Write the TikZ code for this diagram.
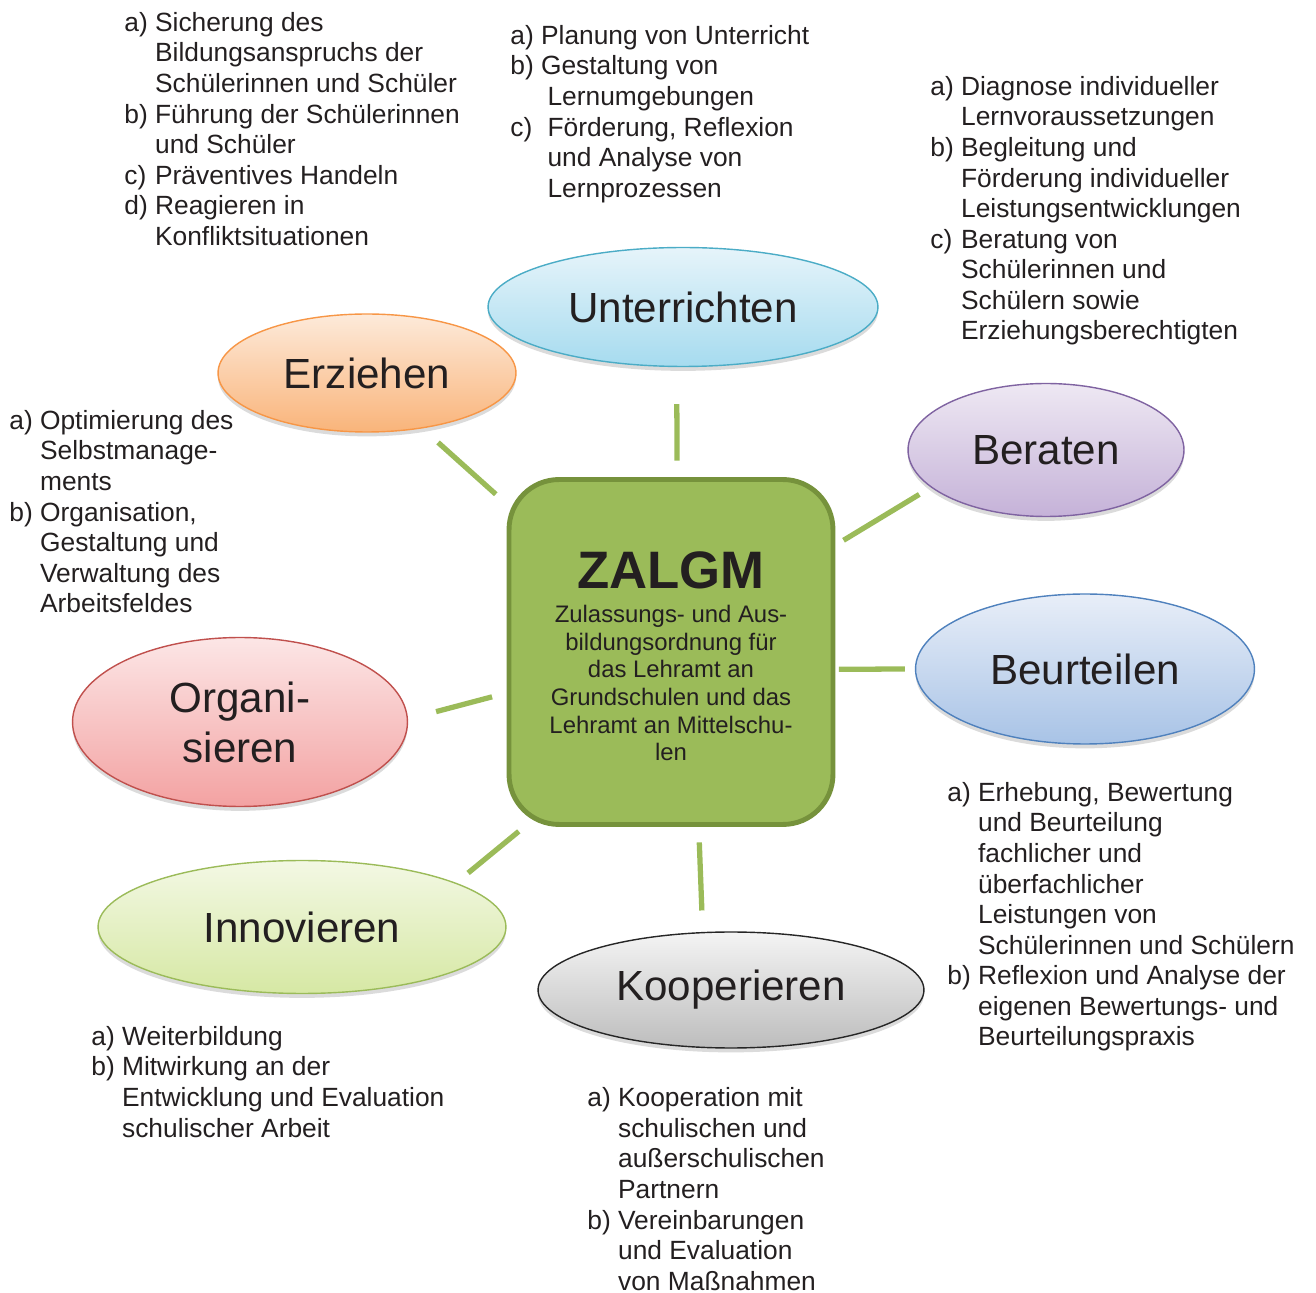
\documentclass[tikz,border=0pt]{standalone}
\usepackage{fontspec}
\setmainfont{Liberation Sans}
\usetikzlibrary{shapes.geometric, shadows}
\definecolor{textdark}{RGB}{35,31,32}
\definecolor{linkgreen}{HTML}{9BBB59}
\definecolor{zalgmfill}{HTML}{9BBB59}
\definecolor{zalgmline}{HTML}{76923C}

\begin{document}
\begin{tikzpicture}[x=0.02cm, y=-0.02cm,
    task/.style={ellipse, inner sep=0pt, line width=0.8pt, align=center, text=textdark,
      font=\fontsize{24}{28.5}\selectfont,
      drop shadow={shadow xshift=0pt, shadow yshift=-2.5pt, opacity=.14, fill=black}},
    core/.style={rectangle, rounded corners=1cm, minimum width=6.48cm, minimum height=6.9cm,
      fill=zalgmfill, draw=zalgmline, line width=2.8pt, align=center, text=textdark,
      font=\fontsize{13.6}{15.7}\selectfont},
    link/.style={draw=linkgreen, line width=3pt},
    items/.style={anchor=north west, inner sep=0pt, text=textdark, font=\fontsize{15}{17.4}\selectfont}]
    \useasboundingbox (0,0) rectangle (1316,1293);

    % Centre
    \node[core] (zalgm) at (671,652) {{\fontsize{30}{34}\selectfont\bfseries\rule{0pt}{26pt}ZALGM}\\[3.7pt]
      Zulassungs- und Aus-\\bildungsordnung für\\das Lehramt an\\Grundschulen und das\\Lehramt an Mittelschu-\\len};

    % Competence areas
    \node[task, minimum width=7.8cm, minimum height=2.38cm, draw={rgb,255:red,75;green,172;blue,198},
      top color={rgb,255:red,230;green,244;blue,250}, bottom color={rgb,255:red,166;green,219;blue,239}] (unter) at (683,307) {Unterrichten};
    \node[task, minimum width=5.96cm, minimum height=2.36cm, draw={rgb,255:red,247;green,150;blue,70},
      top color={rgb,255:red,253;green,234;blue,218}, bottom color={rgb,255:red,249;green,180;blue,122}] (erz) at (367,373) {Erziehen};
    \node[task, minimum width=5.52cm, minimum height=2.66cm, draw={rgb,255:red,127;green,99;blue,161},
      top color={rgb,255:red,238;green,232;blue,243}, bottom color={rgb,255:red,197;green,178;blue,216}] (berat) at (1046,450) {Beraten};
    \node[task, minimum width=6.78cm, minimum height=3.0cm, draw={rgb,255:red,79;green,129;blue,189},
      top color={rgb,255:red,232;green,238;blue,248}, bottom color={rgb,255:red,168;green,195;blue,230}] (beurt) at (1085,669) {Beurteilen};
    \node[task, minimum width=6.7cm, minimum height=3.38cm, draw={rgb,255:red,192;green,80;blue,77},
      top color={rgb,255:red,252;green,230;blue,230}, bottom color={rgb,255:red,243;green,162;blue,162}] (organ) at (240,722) {Organi-\\sieren};
    \node[task, minimum width=8.16cm, minimum height=2.66cm, draw={rgb,255:red,155;green,187;blue,89},
      top color={rgb,255:red,243;green,248;blue,228}, bottom color={rgb,255:red,214;green,232;blue,164}] (innov) at (302,927) {Innovieren};
    \node[task, minimum width=7.72cm, minimum height=2.32cm, draw={rgb,255:red,38;green,38;blue,38},
      top color={rgb,255:red,244;green,244;blue,244}, bottom color={rgb,255:red,189;green,189;blue,189}] (koop) at (731,990) {Kooperieren};

    % Links
    \draw[link, shorten <=0.33cm, shorten >=0.74cm] (zalgm.88.1) -- (unter.264.4);
    \draw[link, shorten <=0.29cm, shorten >=0.42cm] (zalgm.138.7) -- (erz.315.1);
    \draw[link, shorten <=0.19cm, shorten >=0.27cm] (zalgm.33.8) -- (berat.198.6);
    \draw[link, shorten <=0.07cm, shorten >=0.2cm] (zalgm.354.2) -- (beurt.180);
    \draw[link, shorten <=0.3cm, shorten >=0.58cm] (zalgm.194) -- (organ.1.8);
    \draw[link, shorten <=0.14cm, shorten >=0.31cm] (zalgm.230.1) -- (innov.16.1);
    \draw[link, shorten <=0.31cm, shorten >=0.43cm] (zalgm.279.9) -- (koop.116.5);

    % Lists
    \node[items] (erzlist) at (124,9.6) {\begin{tabular}{@{}l@{\ }l@{}}
      a) & Sicherung des\\
         & Bildungsanspruchs der\\
         & Schülerinnen und Schüler\\
      b) & Führung der Schülerinnen\\
         & und Schüler\\
      c) & Präventives Handeln\\
      d) & Reagieren in\\
         & Konfliktsituationen
    \end{tabular}};
    \node[items] (unterlist) at (510,22.6) {\begin{tabular}{@{}l@{\ }l@{}}
      \multicolumn{2}{@{}l@{}}{a) Planung von Unterricht}\\
      \multicolumn{2}{@{}l@{}}{b) Gestaltung von}\\
         & Lernumgebungen\\
      c)\kern.3em & Förderung, Reflexion\\
         & und Analyse von\\
         & Lernprozessen
    \end{tabular}};
    \node[items] (beratlist) at (930,73.6) {\begin{tabular}{@{}l@{\ }l@{}}
      a) & Diagnose individueller\\
         & Lernvoraussetzungen\\
      b) & Begleitung und\\
         & Förderung individueller\\
         & Leistungsentwicklungen\\
      c) & Beratung von\\
         & Schülerinnen und\\
         & Schülern sowie\\
         & Erziehungsberechtigten
    \end{tabular}};
    \node[items] (organlist) at (9,407.6) {\begin{tabular}{@{}l@{\ }l@{}}
      a) & Optimierung des\\
         & Selbstmanage-\\
         & ments\\
      b) & Organisation,\\
         & Gestaltung und\\
         & Verwaltung des\\
         & Arbeitsfeldes
    \end{tabular}};
    \node[items] (beurtlist) at (947,779.6) {\begin{tabular}{@{}l@{\ }l@{}}
      a) & Erhebung, Bewertung\\
         & und Beurteilung\\
         & fachlicher und\\
         & überfachlicher\\
         & Leistungen von\\
         & Schülerinnen und Schülern\\
      b) & Reflexion und Analyse der\\
         & eigenen Bewertungs- und\\
         & Beurteilungspraxis
    \end{tabular}};
    \node[items] (innovlist) at (91,1023.6) {\begin{tabular}{@{}l@{\ }l@{}}
      a) & Weiterbildung\\
      b) & Mitwirkung an der\\
         & Entwicklung und Evaluation\\
         & schulischer Arbeit
    \end{tabular}};
    \node[items] (kooplist) at (587,1085) {\begin{tabular}{@{}l@{\ }l@{}}
      a) & Kooperation mit\\
         & schulischen und\\
         & außerschulischen\\
         & Partnern\\
      b) & Vereinbarungen\\
         & und Evaluation\\
         & von Maßnahmen
    \end{tabular}};
\end{tikzpicture}
\end{document}
